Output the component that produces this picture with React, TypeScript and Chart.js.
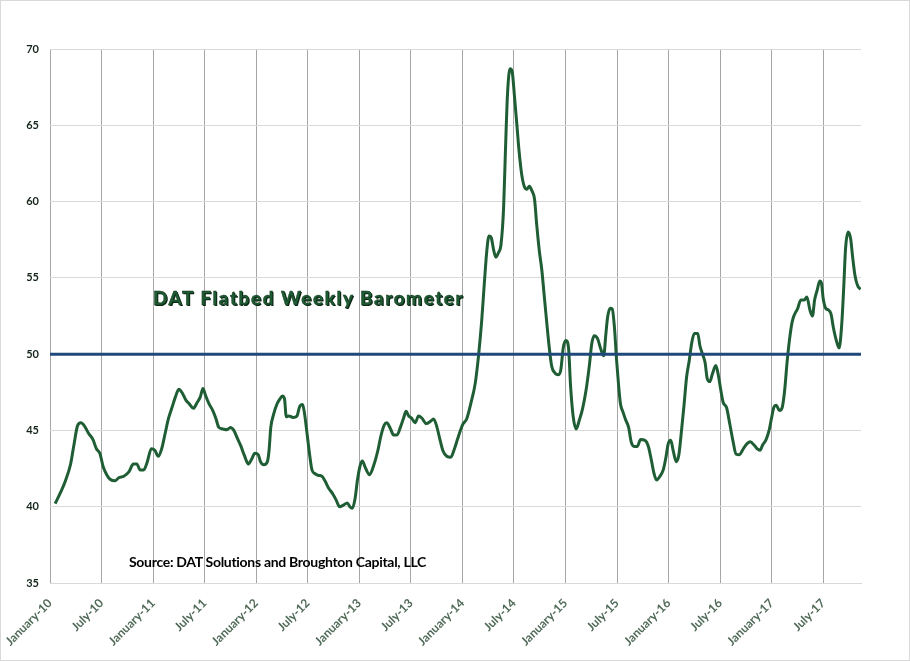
import { useEffect, useRef } from "react";
import * as React from "react";
import { Chart, registerables } from "chart.js";

Chart.register(...registerables);

// half-year tick labels, one every 6 months starting January 2010
const tickLabels = [
  "January-10", "July-10", "January-11", "July-11", "January-12", "July-12",
  "January-13", "July-13", "January-14", "July-14", "January-15", "July-15",
  "January-16", "July-16", "January-17", "July-17",
];

// months since January 2010 for each reading
const monthOffsets = [
  0.6, 1.2, 1.8, 2.4, 2.8, 3.2, 3.6, 4.0, 4.5, 5.0, 5.4, 5.8, 6.2, 6.6, 7.0, 7.6, 8.0, 8.6, 9.2, 9.7,
  10.1, 10.5, 10.9, 11.3, 11.8, 12.2, 12.6, 13.0, 13.4, 13.8, 14.2, 14.6, 15.0, 15.4, 15.8, 16.2, 16.7, 17.1, 17.5, 17.8,
  18.1, 18.5, 18.95, 19.3, 19.65, 20.1, 20.6, 21.0, 21.4, 21.8, 22.2, 22.6, 23.1, 23.45, 23.85, 24.25, 24.5, 24.9, 25.3, 25.5,
  25.7, 26.0, 26.4, 26.75, 27.05, 27.3, 27.5, 27.8, 28.3, 28.75, 29.05, 29.4, 29.6, 29.9, 30.2, 30.5, 30.9, 31.25, 31.65, 32.0,
  32.4, 32.9, 33.3, 33.7, 34.15, 34.6, 34.9, 35.2, 35.5, 35.8, 36.1, 36.35, 36.75, 37.2, 37.65, 38.15, 38.5, 38.9, 39.2, 39.6,
  40.0, 40.4, 40.75, 41.15, 41.45, 41.75, 42.1, 42.5, 42.9, 43.3, 43.8, 44.3, 44.65, 45.0, 45.35, 45.75, 46.2, 46.65, 47.05, 47.45,
  47.8, 48.1, 48.5, 49.0, 49.5, 49.9, 50.25, 50.55, 50.85, 51.1, 51.35, 51.65, 51.9, 52.2, 52.5, 52.8, 53.0, 53.25, 53.55, 53.8,
  54.05, 54.35, 54.6, 54.9, 55.2, 55.5, 55.8, 56.1, 56.4, 56.65, 56.95, 57.25, 57.5, 57.8, 58.1, 58.4, 58.8, 59.15, 59.45, 59.75,
  60.05, 60.35, 60.6, 60.9, 61.25, 61.6, 62.0, 62.4, 62.8, 63.05, 63.35, 63.75, 64.1, 64.45, 64.7, 64.9, 65.2, 65.45, 65.7, 65.95,
  66.2, 66.4, 66.7, 67.0, 67.35, 67.65, 68.0, 68.35, 68.75, 69.25, 69.65, 70.0, 70.3, 70.6, 71.0, 71.4, 71.7, 71.95, 72.25, 72.55,
  72.9, 73.2, 73.5, 73.8, 74.1, 74.4, 74.7, 75.0, 75.4, 75.65, 75.95, 76.25, 76.5, 76.8, 77.1, 77.5, 77.8, 78.05, 78.35, 78.75,
  79.15, 79.5, 79.85, 80.25, 80.6, 81.0, 81.5, 81.95, 82.3, 82.65, 82.95, 83.35, 83.7, 84.0, 84.25, 84.55, 84.9, 85.2, 85.5, 85.8,
  86.1, 86.4, 86.7, 87.0, 87.4, 87.8, 88.1, 88.45, 88.75, 89.0, 89.3, 89.6, 89.8, 90.0, 90.3, 90.6, 90.9, 91.2, 91.55, 91.85,
  92.15, 92.4, 92.6, 92.9, 93.2, 93.4, 93.7, 94.0, 94.35,
];

// DAT flatbed weekly barometer readings
const barometerValues = [
  40.2, 40.9, 41.7, 42.8, 44.1, 45.3, 45.5, 45.3, 44.8, 44.4, 43.8, 43.5, 42.6, 42.1, 41.8, 41.7, 41.9, 42.0, 42.3, 42.8,
  42.8, 42.4, 42.4, 42.9, 43.8, 43.7, 43.3, 43.8, 44.8, 45.8, 46.5, 47.2, 47.7, 47.45, 47.0, 46.75, 46.45, 46.8, 47.2, 47.75,
  47.3, 46.75, 46.3, 45.8, 45.2, 45.1, 45.05, 45.2, 45.0, 44.5, 44.0, 43.4, 42.8, 43.1, 43.5, 43.4, 42.95, 42.75, 42.95, 43.7,
  45.2, 46.0, 46.7, 47.05, 47.25, 47.05, 45.9, 45.95, 45.85, 45.95, 46.55, 46.7, 46.2, 44.9, 43.5, 42.4, 42.15, 42.05, 42.0, 41.7,
  41.25, 40.85, 40.45, 40.0, 40.1, 40.25, 40.0, 39.9, 40.5, 41.8, 42.7, 43.0, 42.5, 42.1, 42.65, 43.65, 44.6, 45.35, 45.5, 45.15,
  44.7, 44.7, 45.15, 45.8, 46.25, 45.95, 45.8, 45.5, 45.95, 45.8, 45.45, 45.6, 45.75, 45.3, 44.5, 43.65, 43.3, 43.25, 43.75, 44.45,
  45.05, 45.45, 45.75, 46.8, 48.1, 50.0, 52.2, 54.6, 56.8, 57.75, 57.65, 56.8, 56.35, 56.65, 57.2, 59.6, 63.1, 67.0, 68.7, 68.5,
  67.0, 65.0, 63.3, 61.8, 61.0, 60.8, 61.0, 60.7, 60.15, 58.5, 56.8, 55.5, 54.0, 52.2, 50.5, 49.2, 48.75, 48.65, 48.95, 50.45,
  50.9, 50.45, 47.85, 45.9, 45.1, 45.65, 46.45, 47.65, 49.35, 50.65, 51.2, 51.0, 50.35, 49.9, 51.3, 52.4, 53.0, 52.95, 51.75, 49.6,
  47.85, 46.75, 46.2, 45.7, 45.2, 44.25, 43.95, 43.95, 44.4, 44.35, 43.95, 43.05, 42.2, 41.75, 42.0, 42.45, 43.25, 44.1, 44.35, 43.65,
  42.95, 43.4, 44.95, 46.65, 48.5, 49.55, 50.75, 51.35, 51.35, 50.55, 50.0, 49.45, 48.4, 48.2, 48.7, 49.25, 48.6, 47.75, 46.85, 46.5,
  45.35, 44.3, 43.45, 43.4, 43.7, 44.05, 44.25, 44.05, 43.8, 43.7, 44.05, 44.4, 45.0, 45.85, 46.5, 46.65, 46.3, 46.45, 47.55, 49.5,
  51.05, 52.15, 52.65, 52.95, 53.55, 53.55, 53.75, 52.9, 52.5, 53.55, 54.2, 54.8, 54.65, 53.65, 53.0, 52.9, 52.65, 51.7, 50.85, 50.4,
  51.9, 54.5, 56.9, 58.0, 57.55, 56.5, 55.15, 54.5, 54.25,
];

const thresholdLevel = 50;
const lastMonth = 94.4;

const App: React.FC = () => {
  const canvasRef = useRef<HTMLCanvasElement>(null);

  useEffect(() => {
    if (!canvasRef.current) return;
    const points = monthOffsets.map((m, i) => ({ x: m, y: barometerValues[i] }));

    const chart = new Chart(canvasRef.current, {
      type: "line",
      data: {
        datasets: [
          {
            data: points,
            borderColor: "#1f5e34",
            borderWidth: 3,
            pointRadius: 0,
            cubicInterpolationMode: "monotone",
            order: 2,
          },
          {
            data: [
              { x: 0, y: thresholdLevel },
              { x: lastMonth, y: thresholdLevel },
            ],
            borderColor: "#1f497d",
            borderWidth: 3,
            pointRadius: 0,
            order: 1,
          },
        ],
      },
      options: {
        responsive: false,
        animation: false,
        layout: { padding: { left: 0, top: 49, right: 47, bottom: 0 } },
        plugins: { legend: { display: false }, tooltip: { enabled: false } },
        scales: {
          x: {
            type: "linear",
            min: 0,
            max: lastMonth,
            afterFit: (scale: any) => {
              scale.height = 76;
              scale.paddingLeft = 0;
              scale.paddingRight = 0;
            },
            afterBuildTicks: (scale: any) => {
              scale.ticks = tickLabels.map((_, i) => ({ value: i * 6 }));
            },
            grid: { color: "#a6a6a6", lineWidth: 1, drawTicks: false },
            border: { color: "#d9d9d9", width: 1 },
            ticks: {
              autoSkip: false,
              minRotation: 45,
              maxRotation: 45,
              padding: 13,
              color: "#506a58",
              font: { family: "Lato", size: 12, weight: "bold" },
              callback: (value: any) => tickLabels[Math.round(Number(value) / 6)] ?? "",
            },
          },
          y: {
            min: 35,
            max: 70,
            afterFit: (scale: any) => {
              scale.width = 50;
              scale.paddingTop = 0;
              scale.paddingBottom = 0;
            },
            grid: { color: "#d9d9d9", lineWidth: 1, drawTicks: false },
            border: { display: false },
            ticks: {
              stepSize: 5,
              padding: 11,
              color: "#14261a",
              font: { family: "Lato", size: 11, weight: "bold" },
            },
          },
        },
      },
    });

    return () => {
      chart.destroy();
    };
  }, []);

  return (
    <div
      style={{
        position: "absolute",
        left: 0,
        top: 0,
        width: 910,
        height: 661,
        border: "1px solid #d9d9d9",
        boxSizing: "border-box",
        background: "#fff",
        overflow: "hidden",
      }}
    >
      <canvas ref={canvasRef} width={908} height={659} style={{ position: "absolute", left: -1, top: -1 }} />
      <div
        style={{
          position: "absolute",
          left: 152,
          top: 287,
          fontFamily: "Lato",
          fontWeight: 900,
          fontSize: 19,
          lineHeight: "19px",
          color: "#1e5b32",
          letterSpacing: "1.5px",
          textShadow: "1px 1px 0 #0b2414",
          WebkitTextStroke: "0.4px #0f2f1b",
          whiteSpace: "nowrap",
        }}
      >
        DAT Flatbed Weekly Barometer
      </div>
      <div
        style={{
          position: "absolute",
          left: 128,
          top: 554,
          fontFamily: "Lato",
          fontWeight: 700,
          fontSize: 14,
          lineHeight: "14px",
          color: "#000",
          letterSpacing: "-0.3px",
          whiteSpace: "nowrap",
        }}
      >
        Source: DAT Solutions and Broughton Capital, LLC
      </div>
    </div>
  );
};

export default App;
